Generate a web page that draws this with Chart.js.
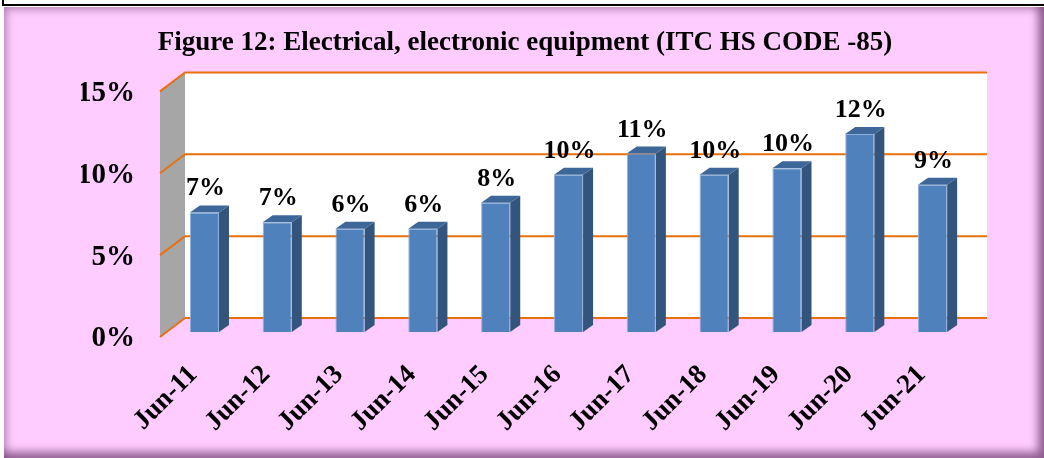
<!DOCTYPE html>
<html lang="en">
<head>
    <meta charset="UTF-8">
    <title>Figure 12: Electrical, electronic equipment</title>
    <script src="https://cdn.jsdelivr.net/npm/chart.js"></script>
    <style>
        body { margin: 0; width: 1044px; height: 458px; background: #fff; overflow: hidden; position: relative; }
        .topline { position: absolute; left: 2px; top: 0; width: 1042px; height: 4px; border-left: 2px solid #000; border-bottom: 2px solid #000; }
        .frame {
            position: absolute; left: 4px; top: 7px; width: 1040px; height: 451px;
            background: #ffccff;
            box-shadow: inset 5px 5px 9px -3px rgba(110, 60, 110, 0.55), inset -9px -9px 9px -3px rgba(110, 60, 110, 0.75);
        }
        #grafico { position: absolute; left: 0; top: 0; }
    </style>
</head>
<body>
    <div class="topline"></div>
    <div class="frame"></div>
    <canvas id="grafico" width="1044" height="458"></canvas>

    <script>
        const categorias = ['Jun-11', 'Jun-12', 'Jun-13', 'Jun-14', 'Jun-15', 'Jun-16', 'Jun-17', 'Jun-18', 'Jun-19', 'Jun-20', 'Jun-21'];
        const participacao = [7.3, 6.7, 6.3, 6.3, 7.9, 9.6, 10.9, 9.6, 10.0, 12.1, 9.0];
        const yTicks = [0, 5, 10, 15];
        const titulo = 'Figure 12: Electrical, electronic equipment (ITC HS CODE -85)';

        const serif = "'Liberation Serif', 'DejaVu Serif', serif";
        const laranja = '#e8700f';

        // paredes 3D, grade e faces laterais das barras
        const efeito3d = {
            id: 'efeito3d',
            beforeDatasetsDraw(chart) {
                const { ctx, chartArea } = chart;
                const y = chart.scales.y;
                const backL = chartArea.left + 17, backR = chartArea.right + 18;
                const frontX = chartArea.left - 8;
                const back = v => y.getPixelForValue(v) - 14;
                const front = v => y.getPixelForValue(v) + 5;
                const top = yTicks[yTicks.length - 1];

                ctx.save();
                ctx.fillStyle = '#fff';
                ctx.fillRect(backL, back(top), backR - backL, back(0) - back(top));

                ctx.fillStyle = '#a6a6a6';
                ctx.beginPath();
                ctx.moveTo(frontX, front(0));
                ctx.lineTo(backL, back(0));
                ctx.lineTo(backL, back(top));
                ctx.lineTo(frontX, front(top));
                ctx.closePath();
                ctx.fill();

                ctx.strokeStyle = laranja;
                ctx.lineWidth = 2;
                yTicks.forEach(v => {
                    ctx.beginPath();
                    ctx.moveTo(frontX, front(v));
                    ctx.lineTo(backL, back(v));
                    ctx.lineTo(backR, back(v));
                    ctx.stroke();
                });

                const dx = 10, dy = 7;
                chart.getDatasetMeta(0).data.forEach(bar => {
                    const l = bar.x - bar.width / 2, r = bar.x + bar.width / 2;
                    ctx.fillStyle = '#33547c';
                    ctx.beginPath();
                    ctx.moveTo(r, bar.y);
                    ctx.lineTo(r + dx, bar.y - dy);
                    ctx.lineTo(r + dx, bar.base - dy);
                    ctx.lineTo(r, bar.base);
                    ctx.closePath();
                    ctx.fill();
                    ctx.fillStyle = '#3d6799';
                    ctx.beginPath();
                    ctx.moveTo(l, bar.y);
                    ctx.lineTo(l + dx, bar.y - dy);
                    ctx.lineTo(r + dx, bar.y - dy);
                    ctx.lineTo(r, bar.y);
                    ctx.closePath();
                    ctx.fill();
                });
                ctx.restore();
            },
            afterDatasetsDraw(chart) {
                const { ctx } = chart;
                ctx.save();
                ctx.font = "bold 26px " + serif;
                ctx.fillStyle = '#000';
                ctx.textAlign = 'center';
                ctx.textBaseline = 'alphabetic';
                chart.getDatasetMeta(0).data.forEach((bar, i) => {
                    ctx.fillText(Math.round(participacao[i]) + '%', bar.x + 1, bar.y - 17);
                });
                ctx.restore();
            }
        };

        new Chart(document.getElementById('grafico'), {
            type: 'bar',
            data: {
                labels: categorias,
                datasets: [{
                    data: participacao,
                    backgroundColor: '#4f81bd',
                    borderColor: '#8fb0db',
                    borderWidth: 1,
                    categoryPercentage: 1,
                    barPercentage: 0.4
                }]
            },
            options: {
                responsive: false,
                animation: false,
                layout: { padding: { left: 81, right: 75, top: 0, bottom: 0 } },
                plugins: {
                    legend: { display: false },
                    tooltip: { enabled: false },
                    title: {
                        display: true,
                        text: titulo,
                        color: '#000',
                        font: { family: serif, size: 27, weight: 'bold' },
                        padding: { top: 27, bottom: 27 }
                    }
                },
                scales: {
                    x: {
                        grid: { display: false, drawTicks: false },
                        border: { display: false },
                        ticks: {
                            color: '#000',
                            font: { family: serif, size: 27, weight: 'bold' },
                            minRotation: 45,
                            maxRotation: 45,
                            padding: 27,
                            labelOffset: -11
                        },
                        afterFit(scale) { scale.height = 126; }
                    },
                    y: {
                        min: 0,
                        max: 15,
                        grid: { display: false, drawTicks: false },
                        border: { display: false },
                        ticks: {
                            stepSize: 5,
                            color: '#000',
                            font: { family: serif, size: 29, weight: 'bold' },
                            padding: 33,
                            labelOffset: 7,
                            callback: v => v + '%'
                        },
                        afterFit(scale) { scale.width = 87; }
                    }
                }
            },
            plugins: [efeito3d]
        });
    </script>
</body>
</html>
